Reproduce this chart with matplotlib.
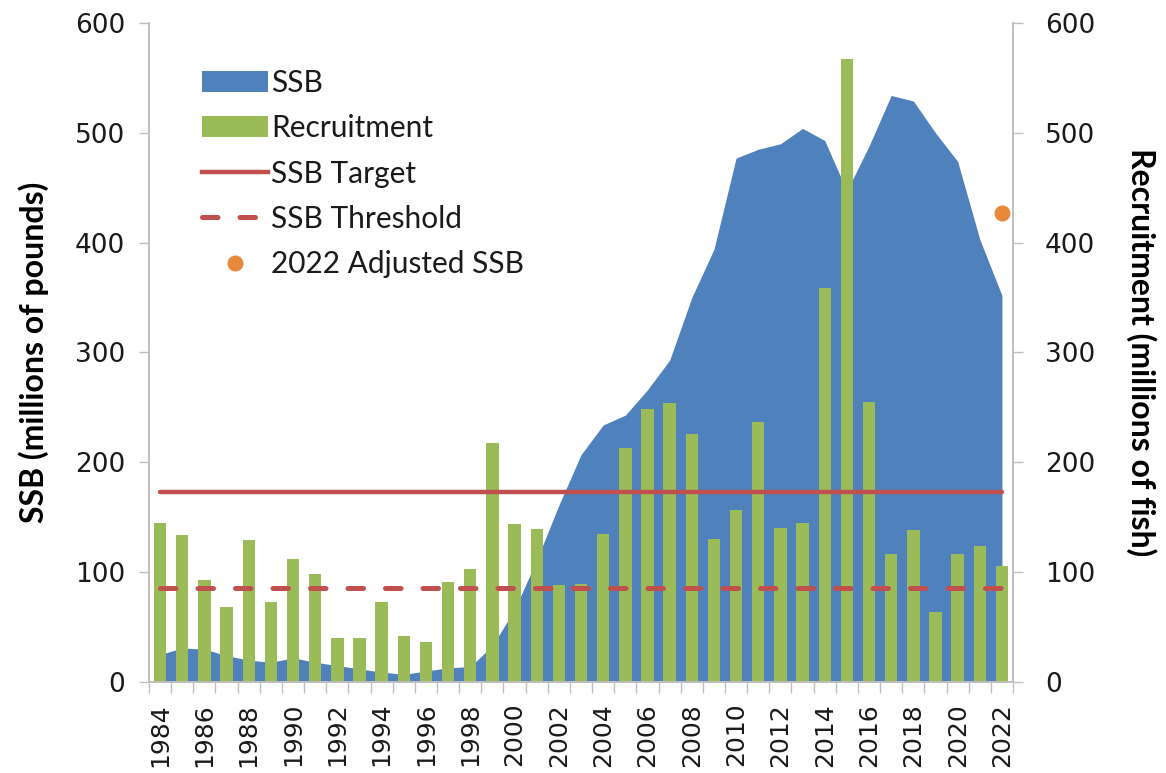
import matplotlib
matplotlib.use("Agg")
import matplotlib.pyplot as plt
from matplotlib.patches import Patch
from matplotlib.lines import Line2D
import numpy as np

years = list(range(1984, 2023))
ssb = [25, 31, 30, 24, 20, 18, 22, 18, 15, 12, 9, 7, 10, 13, 14, 33,
       66, 111, 161, 207, 234, 243, 266, 293, 350, 394, 477, 485, 490,
       504, 493, 447, 488, 534, 529, 500, 474, 403, 352]
recruitment = [145, 134, 93, 68, 129, 73, 112, 98, 40, 40, 73, 42, 36, 91,
               103, 218, 144, 139, 88, 89, 135, 213, 249, 254, 226, 130,
               157, 237, 140, 145, 359, 567, 255, 117, 138, 64, 117, 124, 106]
ssb_target = 173
ssb_threshold = 86
adjusted_year = 2022
adjusted_ssb = 427
ytick_vals = [0, 100, 200, 300, 400, 500, 600]

c_blue = "#4F81BD"
c_green = "#9BBB59"
c_red = "#C0504D"
c_orange = "#E8893A"
c_axis = "#BFBFBF"
c_text = "#1a1a1a"
dash_pat = (3.1, 4.4)

fig = plt.figure(figsize=(11.66, 7.73), dpi=100)
ax = fig.add_axes([0.1278, 0.1177, 0.7410, 0.8526])
x = np.arange(len(years))

ax.fill_between(x, 0, ssb, color=c_blue, lw=0, zorder=1)
ax.bar(x, recruitment, width=0.56, color=c_green, zorder=2)
ax.plot(x, [ssb_target] * len(x), color=c_red, lw=3.2, solid_capstyle="round", zorder=3)
ax.plot(x, [ssb_threshold] * len(x), color=c_red, lw=3.6, dashes=dash_pat,
        dash_capstyle="round", zorder=3)
ax.plot([years.index(adjusted_year)], [adjusted_ssb], "o", color=c_orange, ms=10.5, zorder=4)

ax.set_xlim(-0.5, len(years) - 0.5)
ax.set_ylim(0, 600)
ax.set_yticks(ytick_vals)
ax.set_yticklabels([str(v) for v in ytick_vals], fontsize=19, family="DejaVu Sans",
                   color=c_text)
ax.set_xticks(x[::2])
ax.set_xticklabels([str(y) for y in years[::2]], rotation=90, fontsize=18,
                   family="DejaVu Sans", color=c_text)
ax.set_xticks(np.arange(-0.5, len(years)), minor=True)
ax.tick_params(axis="x", which="major", length=0, pad=15)
ax.tick_params(axis="x", which="minor", length=8, color=c_axis, width=1)
ax.tick_params(axis="y", length=7, color=c_axis, width=1, pad=10)

ax2 = ax.twinx()
ax2.set_ylim(0, 600)
ax2.set_yticks(ytick_vals)
ax2.set_yticklabels([str(v) for v in ytick_vals], fontsize=19, family="DejaVu Sans",
                    color=c_text)
ax2.tick_params(axis="y", length=7, color=c_axis, width=1, pad=16)

for a in (ax, ax2):
    a.spines["top"].set_visible(False)
    for s in ("left", "right", "bottom"):
        a.spines[s].set_color(c_axis)
        a.spines[s].set_linewidth(1.2)

ax.set_ylabel("SSB (millions of pounds)", fontsize=23, fontweight="bold",
              family="Lato", labelpad=19)
ax2.set_ylabel("Recruitment (millions of fish)", fontsize=23, fontweight="bold",
               family="Lato", rotation=270, labelpad=44)

handles = [
    Patch(facecolor=c_blue, edgecolor="none"),
    Patch(facecolor=c_green, edgecolor="none"),
    Line2D([], [], color=c_red, lw=3.2),
    Line2D([], [], color=c_red, lw=3.6, dashes=dash_pat, dash_capstyle="round"),
    Line2D([], [], color=c_orange, marker="o", ms=10.5, lw=0),
]
labels = ["SSB", "Recruitment", "SSB Target", "SSB Threshold", "2022 Adjusted SSB"]
leg = ax.legend(handles, labels, loc="upper left", bbox_to_anchor=(0.0305, 0.971),
                frameon=False, prop={"family": "Lato", "size": 21.5},
                handlelength=2.2, handleheight=0.7, handletextpad=0.1,
                labelspacing=0.58, borderpad=0.4)
for t in leg.get_texts():
    t.set_color(c_text)

fig.savefig("out.png", dpi=100)
